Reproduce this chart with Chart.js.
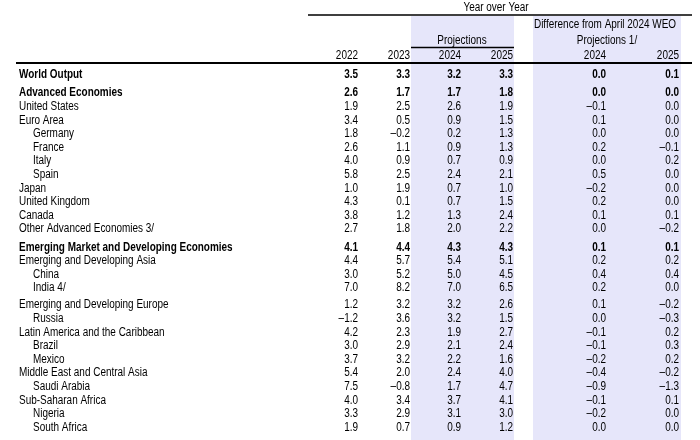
<!DOCTYPE html>
<html>
<head>
<meta charset="utf-8">
<script src="https://cdn.jsdelivr.net/npm/chart.js@4/dist/chart.umd.min.js"></script>
<style>
    html, body { margin: 0; padding: 0; background: #ffffff; }
    #wrap { width: 700px; height: 440px; position: relative; }
</style>
</head>
<body>
<div id="wrap"><canvas id="weoTable"></canvas></div>
<script>
// Row labels (top to bottom)
const rows = [
    'World Output',
    'Advanced Economies',
    'United States',
    'Euro Area',
    'Germany',
    'France',
    'Italy',
    'Spain',
    'Japan',
    'United Kingdom',
    'Canada',
    'Other Advanced Economies 3/',
    'Emerging Market and Developing Economies',
    'Emerging and Developing Asia',
    'China',
    'India 4/',
    'Emerging and Developing Europe',
    'Russia',
    'Latin America and the Caribbean',
    'Brazil',
    'Mexico',
    'Middle East and Central Asia',
    'Saudi Arabia',
    'Sub-Saharan Africa',
    'Nigeria',
    'South Africa',
    'Memorandum'
];

// Column headers
const yearLabels = ['2022', '2023', '2024', '2025', '2024', '2025'];

// Series values (Memorandum row has no numbers)
const y2022 = [3.5, 2.6, 1.9, 3.4, 1.8, 2.6, 4.0, 5.8, 1.0, 4.3, 3.8, 2.7, 4.1, 4.4, 3.0, 7.0, 1.2, -1.2, 4.2, 3.0, 3.7, 5.4, 7.5, 4.0, 3.3, 1.9, null];
const y2023 = [3.3, 1.7, 2.5, 0.5, -0.2, 1.1, 0.9, 2.5, 1.9, 0.1, 1.2, 1.8, 4.4, 5.7, 5.2, 8.2, 3.2, 3.6, 2.3, 2.9, 3.2, 2.0, -0.8, 3.4, 2.9, 0.7, null];
const proj2024 = [3.2, 1.7, 2.6, 0.9, 0.2, 0.9, 0.7, 2.4, 0.7, 0.7, 1.3, 2.0, 4.3, 5.4, 5.0, 7.0, 3.2, 3.2, 1.9, 2.1, 2.2, 2.4, 1.7, 3.7, 3.1, 0.9, null];
const proj2025 = [3.3, 1.8, 1.9, 1.5, 1.3, 1.3, 0.9, 2.1, 1.0, 1.5, 2.4, 2.2, 4.3, 5.1, 4.5, 6.5, 2.6, 1.5, 2.7, 2.4, 1.6, 4.0, 4.7, 4.1, 3.0, 1.2, null];
const diff2024 = [0.0, 0.0, -0.1, 0.1, 0.0, 0.2, 0.0, 0.5, -0.2, 0.2, 0.1, 0.0, 0.1, 0.2, 0.4, 0.2, 0.1, 0.0, -0.1, -0.1, -0.2, -0.4, -0.9, -0.1, -0.2, 0.0, null];
const diff2025 = [0.1, 0.0, 0.0, 0.0, 0.0, -0.1, 0.2, 0.0, 0.0, 0.0, 0.1, -0.2, 0.1, 0.2, 0.4, 0.0, -0.2, -0.3, 0.2, 0.3, 0.2, -0.2, -1.3, 0.1, 0.0, 0.0, null];

const columns = [y2022, y2023, proj2024, proj2025, diff2024, diff2025];

// Row styling
const boldRows = ['World Output', 'Advanced Economies', 'Emerging Market and Developing Economies'];
const indentRows = ['Germany', 'France', 'Italy', 'Spain', 'China', 'India 4/', 'Russia', 'Brazil', 'Mexico', 'Saudi Arabia', 'Nigeria', 'South Africa'];
const gapRows = { 'Advanced Economies': 4.5, 'Emerging Market and Developing Economies': 4.5, 'Emerging and Developing Europe': 3.5, 'Memorandum': 5 };

// Layout (scale units == canvas pixels)
const layout = {
    colRight: [358, 410, 461, 513, 606, 679],
    labelX: 19,
    indentX: 33,
    firstRow: 75,
    rowStep: 13.6,
    headerY: 56,
    projBand: [411, 514],
    diffBand: [533, 681]
};

// no narrow face installed, so the regular one is squeezed
const FONT = '"Liberation Sans", Arial, sans-serif';
const SQUEEZE = 0.83;
const SHADE = '#e6e6fa';

// Row positions, accumulated down the table
function rowPositions() {
    const pos = [];
    let y = layout.firstRow;
    rows.forEach((name, i) => {
        if (i > 0) y += layout.rowStep + (gapRows[name] || 0);
        pos.push(y);
    });
    return pos;
}

function fmt(v) {
    if (v === null) return '';
    return (v < 0 ? '\u2013' : '') + Math.abs(v).toFixed(1);
}

function narrowText(ctx, text, px, py) {
    ctx.save();
    ctx.translate(px, py);
    ctx.scale(SQUEEZE, 1);
    ctx.fillText(text, 0, 0);
    ctx.restore();
}

const rowY = rowPositions();

// One scatter dataset per number column, points sit on the cell anchors
const datasets = columns.map((col, c) => ({
    label: yearLabels[c],
    data: col.map((v, i) => ({ x: layout.colRight[c], y: rowY[i], v: v, row: rows[i] })).filter(p => p.v !== null),
    pointRadius: 0,
    pointHoverRadius: 0
}));

// Shaded bands, rules, headers and row labels
const tableFrame = {
    id: 'tableFrame',
    beforeDatasetsDraw(chart) {
        const { ctx, scales: { x, y } } = chart;
        ctx.save();
        ctx.fillStyle = SHADE;
        [layout.projBand, layout.diffBand].forEach(b => {
            ctx.fillRect(x.getPixelForValue(b[0]), y.getPixelForValue(16),
                x.getPixelForValue(b[1]) - x.getPixelForValue(b[0]), y.getPixelForValue(440) - y.getPixelForValue(16));
        });

        ctx.strokeStyle = '#000';
        ctx.lineWidth = 1.5;
        ctx.beginPath();
        ctx.moveTo(x.getPixelForValue(308), y.getPixelForValue(15));
        ctx.lineTo(x.getPixelForValue(692), y.getPixelForValue(15));
        ctx.moveTo(x.getPixelForValue(layout.projBand[0]), y.getPixelForValue(47.5));
        ctx.lineTo(x.getPixelForValue(layout.projBand[1]), y.getPixelForValue(47.5));
        ctx.stroke();
        ctx.lineWidth = 2;
        ctx.beginPath();
        ctx.moveTo(x.getPixelForValue(16), y.getPixelForValue(63));
        ctx.lineTo(x.getPixelForValue(692), y.getPixelForValue(63));
        ctx.stroke();

        ctx.fillStyle = '#000';
        ctx.textBaseline = 'middle';
        ctx.font = '12px ' + FONT;
        ctx.textAlign = 'center';
        narrowText(ctx, 'Year over Year', x.getPixelForValue(496), y.getPixelForValue(8));
        narrowText(ctx, 'Projections', x.getPixelForValue(462), y.getPixelForValue(40.5));
        narrowText(ctx, 'Difference from April 2024 WEO', x.getPixelForValue(605), y.getPixelForValue(24.5));
        narrowText(ctx, 'Projections 1/', x.getPixelForValue(607), y.getPixelForValue(40.5));
        ctx.textAlign = 'right';
        yearLabels.forEach((lab, c) => {
            narrowText(ctx, lab, x.getPixelForValue(layout.colRight[c]), y.getPixelForValue(layout.headerY));
        });

        ctx.textAlign = 'left';
        rows.forEach((name, i) => {
            ctx.font = (boldRows.includes(name) ? 'bold ' : '') + '12px ' + FONT;
            ctx.fillStyle = name === 'Memorandum' ? '#555' : '#000';
            const lx = indentRows.includes(name) ? layout.indentX : layout.labelX;
            narrowText(ctx, name, x.getPixelForValue(lx), y.getPixelForValue(rowY[i]));
        });
        ctx.restore();
    },
    afterDatasetsDraw(chart) {
        const { ctx } = chart;
        ctx.save();
        ctx.fillStyle = '#000';
        ctx.textAlign = 'right';
        ctx.textBaseline = 'middle';
        chart.data.datasets.forEach((ds, d) => {
            const meta = chart.getDatasetMeta(d);
            meta.data.forEach((pt, k) => {
                const p = ds.data[k];
                ctx.font = (boldRows.includes(p.row) ? 'bold ' : '') + '12px ' + FONT;
                narrowText(ctx, fmt(p.v), pt.x, pt.y);
            });
        });
        ctx.restore();
    }
};

document.addEventListener('DOMContentLoaded', function() {
    const canvas = document.getElementById('weoTable');
    new Chart(canvas, {
        type: 'scatter',
        data: { datasets: datasets },
        options: {
            responsive: true,
            maintainAspectRatio: false,
            animation: false,
            events: [],
            layout: { padding: 0 },
            plugins: {
                legend: { display: false },
                tooltip: { enabled: false },
                title: { display: false }
            },
            scales: {
                x: { type: 'linear', min: 0, max: 700, display: false },
                y: { type: 'linear', min: 0, max: 440, reverse: true, display: false }
            }
        },
        plugins: [tableFrame]
    });
});
</script>
</body>
</html>
